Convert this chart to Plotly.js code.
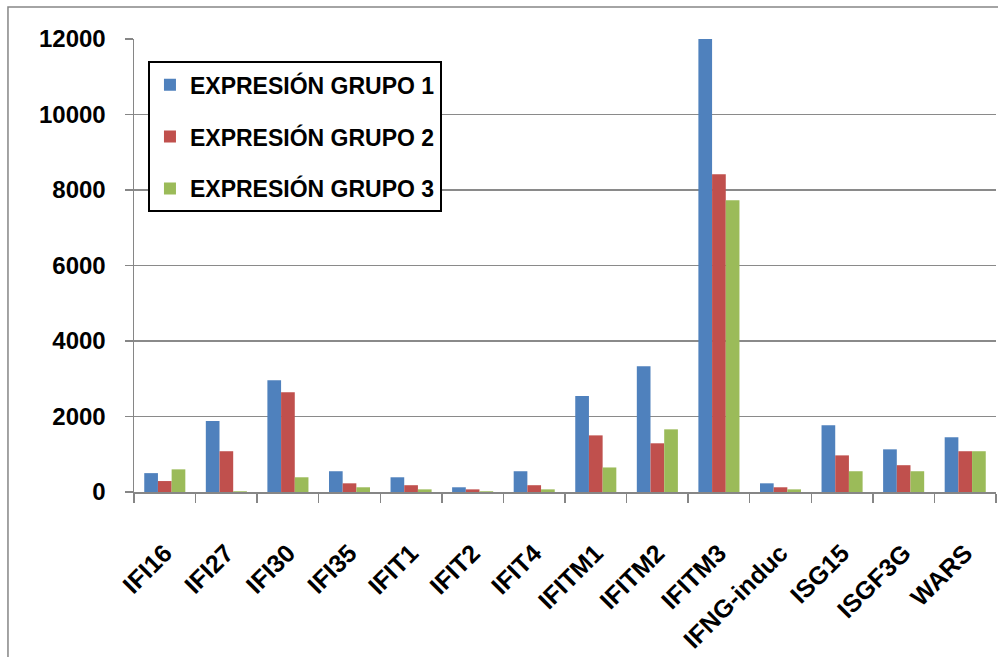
<!DOCTYPE html>
<html>
<head>
<meta charset="utf-8">
<script src="https://cdn.plot.ly/plotly-3.0.1.min.js"></script>
<style>html,body{margin:0;padding:0;background:#fff}#chart{width:998px;height:657px}</style>
</head>
<body>
<div id="chart"></div>
<script>
var categories = ["IFI16","IFI27","IFI30","IFI35","IFIT1","IFIT2","IFIT4","IFITM1","IFITM2","IFITM3","IFNG-induc","ISG15","ISGF3G","WARS"];
var grupo1 = [500, 1880, 2960, 550, 390, 125, 550, 2540, 3330, 12000, 230, 1770, 1130, 1450];
var grupo2 = [290, 1080, 2640, 230, 180, 70, 180, 1500, 1290, 8420, 125, 970, 710, 1080];
var grupo3 = [600, 20, 390, 125, 70, 20, 70, 650, 1660, 7730, 70, 550, 550, 1080];
var seriesNames = ["EXPRESIÓN GRUPO 1", "EXPRESIÓN GRUPO 2", "EXPRESIÓN GRUPO 3"];
var seriesColors = ["#4F81BD", "#C0504D", "#9BBB59"];
var yTicks = [0, 2000, 4000, 6000, 8000, 10000, 12000];

var fam = "Liberation Sans, Arial, sans-serif";
var series = [grupo1, grupo2, grupo3];
var traces = series.map(function(vals, i){
  return {
    type: "bar",
    x: categories,
    y: vals,
    name: seriesNames[i],
    legendgroup: "g" + i,
    marker: {color: seriesColors[i], line: {width: 0}},
    hoverinfo: "x+y+name"
  };
});

var layout = {
  width: 998,
  height: 657,
  margin: {l: 134, r: 2, t: 39, b: 165},
  paper_bgcolor: "#ffffff",
  plot_bgcolor: "#ffffff",
  barmode: "group",
  bargap: 0.333,
  bargroupgap: 0,
  showlegend: true,
  legend: {
    x: 0.0162, y: 0.951, xanchor: "left", yanchor: "top",
    bgcolor: "#ffffff", bordercolor: "#000000", borderwidth: 2,
    font: {family: fam, size: 23, color: "#000000", weight: "bold"},
    traceorder: "grouped",
    tracegroupgap: 19
  },
  xaxis: {
    type: "category",
    tickangle: -45,
    tickson: "boundaries",
    ticks: "outside",
    ticklen: 9,
    tickwidth: 1.5,
    tickcolor: "#868686",
    showline: true,
    linecolor: "#868686",
    linewidth: 1.5,
    showgrid: false,
    tickfont: {family: fam, size: 25, color: "#000000", weight: "bold"},
    ticklabelstandoff: 35
  },
  yaxis: {
    range: [0, 12000],
    tickvals: yTicks,
    ticktext: yTicks.map(String),
    ticks: "outside",
    ticklen: 8,
    tickwidth: 1.5,
    tickcolor: "#868686",
    showline: true,
    linecolor: "#868686",
    linewidth: 1.5,
    showgrid: true,
    gridcolor: "#8a8a8a",
    gridwidth: 1.5,
    zeroline: false,
    tickfont: {family: fam, size: 24, color: "#000000", weight: "bold"},
    ticklabelstandoff: 14
  },
  shapes: [{
    type: "rect", xref: "paper", yref: "paper",
    x0: -0.1462, x1: 1.2, y0: -0.6, y1: 1.0706,
    line: {color: "#868686", width: 1.5},
    fillcolor: "rgba(0,0,0,0)",
    layer: "below"
  }]
};

Plotly.newPlot("chart", traces, layout, {displayModeBar: false, staticPlot: true});
</script>
</body>
</html>
